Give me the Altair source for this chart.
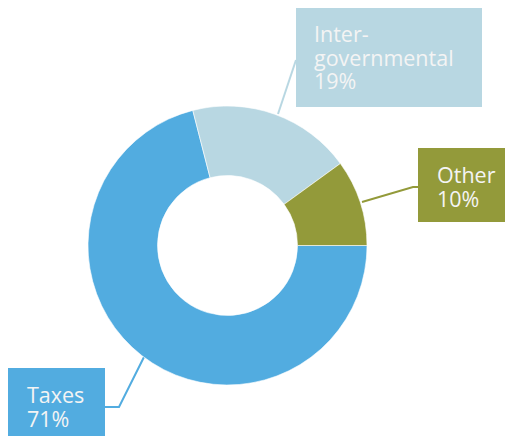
import math
import altair as alt
import pandas as pd

categories = ["Taxes", "Inter-governmental", "Other"]
shares = [71, 19, 10]
label_texts = ["Taxes\n71%", "Inter-\ngovernmental\n19%", "Other\n10%"]
colors = ["#52ACE0", "#B8D7E2", "#939A3A"]

M = 8  # page margin
W, H = 513 - 2 * M, 444 - 2 * M

pie_df = pd.DataFrame({"cat": categories, "share": shares, "order": [0, 1, 2]})

cx, cy = 227.5 - M, 245.5 - M

arc = alt.Chart(pie_df).mark_arc(radius=139.5, radius2=70, stroke="white", strokeWidth=0.6).encode(
    theta=alt.Theta("share:Q", stack=True, scale=alt.Scale(range=[math.pi / 2, math.pi / 2 + 2 * math.pi])),
    color=alt.Color("cat:N", scale=alt.Scale(domain=categories, range=colors), legend=None),
    order=alt.Order("order:Q"),
    x=alt.value(cx),
    y=alt.value(cy),
)

# layout of annotation boxes (page pixels)
box_x = [7, 296, 418]
box_x2 = [105, 482, 513]
box_y = [368, 8, 148]
box_y2 = [442, 107, 222]
text_x = [27, 314, 437]
text_y = [403, 42, 183]

box_df = pd.DataFrame({
    "cat": categories,
    "label": label_texts,
    "x": [v - M for v in box_x],
    "x2": [v - M for v in box_x2],
    "y": [v - M for v in box_y],
    "y2": [v - M for v in box_y2],
    "tx": [v - M for v in text_x],
    "ty": [v - M for v in text_y],
})

boxes = alt.Chart(box_df).mark_rect().encode(
    x=alt.X("x:Q", scale=None, axis=None),
    x2="x2:Q",
    y=alt.Y("y:Q", scale=None, axis=None),
    y2="y2:Q",
    color=alt.Color("cat:N", scale=alt.Scale(domain=categories, range=colors), legend=None),
)

texts = alt.Chart(box_df).mark_text(
    align="left", baseline="alphabetic", lineBreak="\n", lineHeight=23.5,
    font="Open Sans", fontSize=21.5, color="#F4F4F4",
).encode(
    x=alt.X("tx:Q", scale=None, axis=None),
    y=alt.Y("ty:Q", scale=None, axis=None),
    text="label:N",
)

# leader lines (page pixels)
lead_cat = ["Taxes", "Taxes", "Taxes", "Inter-governmental", "Inter-governmental",
            "Other", "Other", "Other"]
lead_x = [144, 119, 105, 278, 296, 362, 413, 418]
lead_y = [357, 407, 407, 114, 60, 202, 187, 187]
lead_df = pd.DataFrame({
    "cat": lead_cat,
    "x": [v - M for v in lead_x],
    "y": [v - M for v in lead_y],
    "i": list(range(len(lead_x))),
})
leaders = alt.Chart(lead_df).mark_line(strokeWidth=2).encode(
    x=alt.X("x:Q", scale=None, axis=None),
    y=alt.Y("y:Q", scale=None, axis=None),
    detail="cat:N",
    order="i:Q",
    color=alt.Color("cat:N", scale=alt.Scale(domain=categories, range=colors), legend=None),
)

chart = alt.layer(leaders, arc, boxes, texts).properties(
    width=W, height=H, autosize=alt.AutoSizeParams(type="none"), padding=0
).configure_view(stroke=None)

chart.save("out.html", embed_options={"renderer": "svg", "actions": False})
